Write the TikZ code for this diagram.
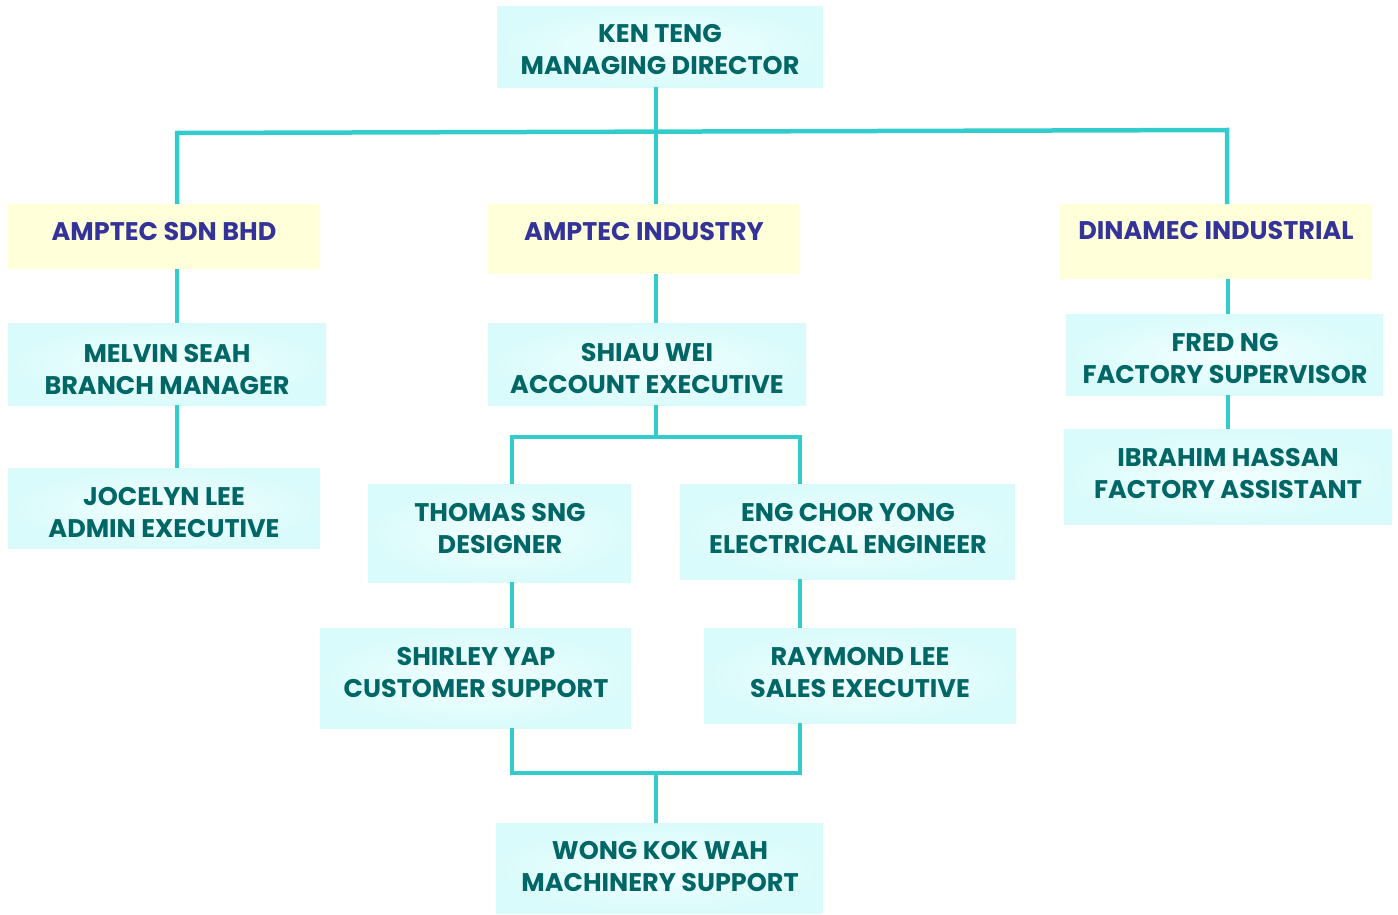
\documentclass[tikz,border=0pt]{standalone}
\usepackage{fontspec}
\setmainfont{Poppins}
\definecolor{lc}{HTML}{33CCCC}
\definecolor{cyout}{HTML}{DAFBFB}
\definecolor{cyin}{HTML}{F2FFFF}
\definecolor{yel}{HTML}{FFFFD9}
\definecolor{teal}{HTML}{006666}
\definecolor{navy}{HTML}{333399}
\begin{document}
\begin{tikzpicture}[x=1pt,y=-1pt,
  cbox/.style={rectangle, draw=none, inner sep=0pt, anchor=north west, inner color=cyin, outer color=cyout},
  ybox/.style={rectangle, draw=none, inner sep=0pt, anchor=north west, fill=yel},
  ctext/.style={align=center, text=teal, font=\bfseries\fontsize{25.5}{32}\selectfont, inner sep=0pt},
  ytext/.style={align=center, text=navy, font=\bfseries\fontsize{25.5}{32}\selectfont, inner sep=0pt},
  conn/.style={draw=lc, line width=4.5pt}]
\useasboundingbox (0,0) rectangle (1398,915);
% boxes
\node[cbox, minimum width=326, minimum height=81] (ken) at (497,6) {};
\node[ybox, minimum width=312, minimum height=65] (sdn) at (8,204) {};
\node[ybox, minimum width=311, minimum height=70] (ind) at (488,204) {};
\node[ybox, minimum width=312, minimum height=75] (din) at (1060,204) {};
\node[cbox, minimum width=318, minimum height=82] (melvin) at (8,323) {};
\node[cbox, minimum width=318, minimum height=82] (shiau) at (488,323) {};
\node[cbox, minimum width=317, minimum height=81] (fred) at (1066,314) {};
\node[cbox, minimum width=328, minimum height=95] (ibrahim) at (1064,429) {};
\node[cbox, minimum width=312, minimum height=80] (jocelyn) at (8,468) {};
\node[cbox, minimum width=263, minimum height=98] (thomas) at (368,484) {};
\node[cbox, minimum width=335, minimum height=95] (eng) at (680,484) {};
\node[cbox, minimum width=311, minimum height=100] (shirley) at (320,628) {};
\node[cbox, minimum width=312, minimum height=95] (raymond) at (704,628) {};
\node[cbox, minimum width=327, minimum height=90] (wong) at (496,823) {};
% texts
\node[ctext] (tken) at (660,49.5) {KEN TENG\\MANAGING DIRECTOR};
\node[ytext] (tsdn) at (164,232) {AMPTEC SDN BHD};
\node[ytext] (tind) at (644,232) {AMPTEC INDUSTRY};
\node[ytext] (tdin) at (1216,231) {DINAMEC INDUSTRIAL};
\node[ctext] (tmelvin) at (167,369) {MELVIN SEAH\\BRANCH MANAGER};
\node[ctext] (tshiau) at (647,369) {SHIAU WEI\\ACCOUNT EXECUTIVE};
\node[ctext] (tfred) at (1225,359) {FRED NG\\FACTORY SUPERVISOR};
\node[ctext] (tibrahim) at (1228,473.5) {IBRAHIM HASSAN\\FACTORY ASSISTANT};
\node[ctext] (tjocelyn) at (164,512.5) {JOCELYN LEE\\ADMIN EXECUTIVE};
\node[ctext] (tthomas) at (500,528.5) {THOMAS SNG\\DESIGNER};
\node[ctext] (teng) at (848,528.5) {ENG CHOR YONG\\ELECTRICAL ENGINEER};
\node[ctext] (tshirley) at (476,673) {SHIRLEY YAP\\CUSTOMER SUPPORT};
\node[ctext] (traymond) at (860,673) {RAYMOND LEE\\SALES EXECUTIVE};
\node[ctext] (twong) at (660,867) {WONG KOK WAH\\MACHINERY SUPPORT};
% connector coordinates
\coordinate (busL) at (177,133);
\coordinate (busM) at (656,131.5);
\coordinate (busR) at (1227,130);
\coordinate (b2M) at (656,437);
\coordinate (b2L) at (512,437);
\coordinate (b2R) at (800,437);
\coordinate (b3M) at (656,773);
\coordinate (b3L) at (512,773);
\coordinate (b3R) at (800,773);
\coordinate (xL) at (177,0);
\coordinate (xR) at (1228,0);
% connectors
\draw[conn] (busM |- ken.south) -- (busM);
\draw[conn] (busL |- sdn.north) -- (busL) -- (busR) -- (busR |- din.north);
\draw[conn] (busM) -- (busM |- ind.north);
\draw[conn] (xL |- sdn.south) -- (xL |- melvin.north);
\draw[conn] (xL |- melvin.south) -- (xL |- jocelyn.north);
\draw[conn] (busM |- ind.south) -- (busM |- shiau.north);
\draw[conn] (xR |- din.south) -- (xR |- fred.north);
\draw[conn] (xR |- fred.south) -- (xR |- ibrahim.north);
\draw[conn] (b2M |- shiau.south) -- (b2M);
\draw[conn] (b2L |- thomas.north) -- (b2L) -- (b2R) -- (b2R |- eng.north);
\draw[conn] (b2L |- thomas.south) -- (b2L |- shirley.north);
\draw[conn] (b2R |- eng.south) -- (b2R |- raymond.north);
\draw[conn] (b3L |- shirley.south) -- (b3L) -- (b3R) -- (b3R |- raymond.south);
\draw[conn] (b3M) -- (b3M |- wong.north);
\end{tikzpicture}
\end{document}
